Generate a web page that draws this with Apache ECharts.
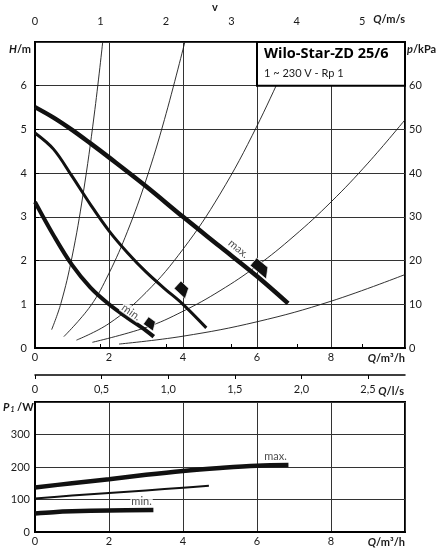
<!DOCTYPE html>
<html>
<head>
<meta charset="utf-8">
<script src="https://cdn.jsdelivr.net/npm/echarts@6/dist/echarts.min.js"></script>
<style>
  html, body { margin: 0; padding: 0; background: #fff; }
  #chart { width: 441px; height: 560px; }
</style>
</head>
<body>
<div id="chart"></div>
<script>
// pump curves H(Q), Q in m³/h, H in m
const maxCurve = [[0, 5.51], [0.5, 5.27], [1, 4.99], [1.5, 4.68], [2, 4.36], [3, 3.7], [4, 3.0], [5, 2.32], [6, 1.64], [6.84, 1.02]];
const midCurve = [[0, 4.92], [0.5, 4.55], [1, 3.93], [1.5, 3.28], [2, 2.68], [2.5, 2.18], [3, 1.74], [3.5, 1.36], [4, 1.0], [4.63, 0.46]];
const minCurve = [[0, 3.34], [0.5, 2.58], [1, 1.9], [1.5, 1.38], [2, 1.0], [2.5, 0.69], [3, 0.4], [3.21, 0.26]];

// system curves (thin)
const sysA = [[0.45, 0.42], [0.7, 1.02], [1.0, 2.08], [1.3, 3.52], [1.6, 5.33], [1.83, 7.0]];
const sysB = [[0.78, 0.26], [1.5, 0.96], [2.0, 1.71], [2.5, 2.67], [3.0, 3.84], [3.5, 5.23], [4.05, 7.0]];
const sysC = [[1.12, 0.18], [2, 0.56], [3, 1.27], [4, 2.26], [5, 3.52], [6, 5.08], [7.05, 7.0]];
const sysD = [[1.55, 0.13], [3, 0.47], [4, 0.84], [5, 1.31], [6, 1.88], [7, 2.56], [8, 3.34], [9, 4.23], [10, 5.22]];
const sysE = [[2.27, 0.09], [4, 0.27], [6, 0.6], [8, 1.07], [10, 1.68]];

// operating markers and curve labels (Q, H)
const markers = [[6.12, 1.82], [4.0, 1.33], [3.13, 0.55]];
const hLabels = [['max.', 5.5, 2.27], ['min.', 2.6, 0.82]];

// power input P1(Q), W
const p1Max = [[0, 137], [1, 150], [2, 162], [3, 176], [4, 188], [5, 197], [6, 204], [6.85, 206]];
const p1Mid = [[0, 103], [1, 112], [2, 120], [3, 128], [4, 136], [4.7, 142]];
const p1Min = [[0, 57], [0.5, 61], [1, 63.5], [2, 66.5], [3.2, 68]];
const pLabels = [['max.', 6.5, 232], ['min.', 2.88, 94]];

// secondary axis ticks
const vTicks = [0, 1, 2, 3, 4, 5];          // m/s
const lpsTicks = [0, 0.5, 1, 1.5, 2, 2.5];  // l/s
const vMax = 10 / 1.769;
const lpsMax = 10 / 3.6;

const FONT = 'Lato';
const ink = '#1a1a1a';

const chart = echarts.init(document.getElementById('chart'));

const lbl = { color: ink, fontSize: 11, fontFamily: FONT };
const gridLine = { show: true, lineStyle: { color: '#333', width: 1 } };

function thin(data) {
    return {
        type: 'line', xAxisIndex: 0, yAxisIndex: 0, data: data,
        smooth: 0.4, symbol: 'none', silent: true,
        lineStyle: { color: ink, width: 0.9 }, z: 2
    };
}
function thick(data, w, xi, yi) {
    return {
        type: 'line', xAxisIndex: xi, yAxisIndex: yi, data: data,
        smooth: 0.35, symbol: 'none', silent: true,
        lineStyle: { color: '#111', width: w }, z: 4
    };
}
function textMarks(list, xi, yi, rot, bg) {
    return list.map((l, i) => ({
        type: 'scatter', xAxisIndex: xi, yAxisIndex: yi, silent: true, z: 6,
        symbolSize: 1, itemStyle: { color: 'rgba(0,0,0,0)' },
        data: [[l[1], l[2]]],
        label: {
            show: true, position: 'inside', formatter: l[0], rotate: rot[i],
            color: ink, fontSize: 11, fontFamily: FONT,
            backgroundColor: bg[i], padding: [0, 1]
        }
    }));
}

const markerSizes = [[21, 10], [15, 10], [12, 9]];
const markerRot = [-40, -43, -36];

chart.setOption({
    animation: false,
    grid: [
        { left: 35, top: 42, width: 370, height: 306, show: true, borderColor: '#000', borderWidth: 2, backgroundColor: '#fff' },
        { left: 35, top: 402, width: 370, height: 130, show: true, borderColor: '#000', borderWidth: 2, backgroundColor: '#fff' }
    ],
    xAxis: [
        {
            gridIndex: 0, type: 'value', position: 'bottom', min: 0, max: 10, interval: 2,
            axisLine: { lineStyle: { color: '#000', width: 2 } }, axisTick: { show: false },
            axisLabel: Object.assign({ margin: 4, showMaxLabel: false }, lbl), splitLine: gridLine
        },
        {
            gridIndex: 0, type: 'value', position: 'top', offset: 10, min: 0, max: vMax,
            axisLine: { show: true, lineStyle: { color: '#000', width: 1.5 } },
            axisTick: { show: true, length: 4, customValues: vTicks, lineStyle: { color: '#000' } },
            axisLabel: Object.assign({ margin: 5, customValues: vTicks }, lbl), splitLine: { show: false }
        },
        {
            gridIndex: 1, type: 'value', position: 'bottom', min: 0, max: 10, interval: 2,
            axisLine: { lineStyle: { color: '#000', width: 2 } }, axisTick: { show: false },
            axisLabel: Object.assign({ margin: 4, showMaxLabel: false }, lbl), splitLine: gridLine
        },
        {
            gridIndex: 1, type: 'value', position: 'top', offset: 27, min: 0, max: lpsMax,
            axisLine: { show: true, lineStyle: { color: '#000', width: 1.5 } },
            axisTick: { show: true, inside: true, length: 4, customValues: lpsTicks, lineStyle: { color: '#000' } },
            axisLabel: Object.assign({
                inside: true, margin: 9, customValues: lpsTicks,
                formatter: v => v === 0 ? '0' : v.toFixed(1).replace('.', ',')
            }, lbl),
            splitLine: { show: false }
        }
    ],
    yAxis: [
        {
            gridIndex: 0, type: 'value', position: 'left', min: 0, max: 7, interval: 1,
            axisLine: { show: true, lineStyle: { color: '#000', width: 2 } }, axisTick: { show: false },
            axisLabel: Object.assign({ margin: 8, showMaxLabel: false }, lbl), splitLine: gridLine
        },
        {
            gridIndex: 0, type: 'value', position: 'right', min: 0, max: 70, interval: 10,
            axisLine: { show: true, lineStyle: { color: '#000', width: 2 } },
            axisTick: { show: true, length: 4, lineStyle: { color: '#000' } },
            axisLabel: Object.assign({ margin: 4, showMaxLabel: false }, lbl), splitLine: { show: false }
        },
        {
            gridIndex: 1, type: 'value', position: 'left', min: 0, max: 400, interval: 100,
            axisLine: { show: true, lineStyle: { color: '#000', width: 2 } }, axisTick: { show: false },
            axisLabel: Object.assign({ margin: 5, showMaxLabel: false }, lbl), splitLine: gridLine
        }
    ],
    series: [
        thin(sysA), thin(sysB), thin(sysC), thin(sysD), thin(sysE),
        thick(maxCurve, 4.5, 0, 0),
        thick(midCurve, 3, 0, 0),
        thick(minCurve, 4, 0, 0),
        {
            type: 'scatter', xAxisIndex: 0, yAxisIndex: 0, silent: true, z: 7,
            symbol: 'path://M0,0 L14,0 L20,9 L0,9 Z',
            itemStyle: { color: '#111', borderColor: '#fff', borderWidth: 0.6, opacity: 1 },
            data: markers.map((p, i) => ({ value: p, symbolSize: markerSizes[i], symbolRotate: markerRot[i] }))
        },
        ...textMarks(hLabels, 0, 0, [-40, -35], ['rgba(255,255,255,0)', '#fff']),
        thick(p1Max, 4.5, 2, 2),
        thick(p1Mid, 2, 2, 2),
        thick(p1Min, 4.5, 2, 2),
        ...textMarks(pLabels, 2, 2, [0, 0], ['rgba(255,255,255,0)', '#fff'])
    ]
});

// title box and axis names
const tl = chart.convertToPixel({ xAxisIndex: 0, yAxisIndex: 0 }, [6, 7]);
const br = chart.convertToPixel({ xAxisIndex: 0, yAxisIndex: 0 }, [10, 6]);
const it = { i: { fontStyle: 'italic', fontWeight: 'bold', fontFamily: FONT, fontSize: 11 } };
function name(x, y, text, align) {
    return {
        type: 'text', x: x, y: y, z: 100,
        style: {
            text: text, align: align || 'left', verticalAlign: 'middle',
            fontFamily: FONT, fontSize: 11, fontWeight: 'bold', fill: ink, rich: it
        }
    };
}
chart.setOption({
    graphic: [
        {
            type: 'rect', z: 100,
            shape: { x: tl[0], y: tl[1], width: br[0] - tl[0], height: br[1] - tl[1] },
            style: { fill: '#fff', stroke: '#000', lineWidth: 2 }
        },
        {
            type: 'text', x: tl[0] + 7, y: tl[1] + 12, z: 101,
            style: { text: 'Wilo-Star-ZD 25/6', verticalAlign: 'middle', fontFamily: 'Open Sans', fontSize: 14.5, fontWeight: 'bold', fill: '#000' }
        },
        {
            type: 'text', x: tl[0] + 7, y: tl[1] + 31, z: 101,
            style: { text: '1 ~ 230 V - Rp 1', verticalAlign: 'middle', fontFamily: FONT, fontSize: 11, fill: ink }
        },
        name(215, 7, 'v', 'center'),
        name(405, 19, '{i|Q}/m/s', 'right'),
        name(31, 49, '{i|H}/m', 'right'),
        name(407, 49, '{i|p}/kPa', 'left'),
        name(405, 358, '{i|Q}/m³/h', 'right'),
        name(404, 391, '{i|Q}/l/s', 'right'),
        {
            type: 'text', x: 3, y: 407, z: 100,
            style: {
                text: '{i|P}{s|1} /W', verticalAlign: 'middle',
                fontFamily: FONT, fontSize: 11, fontWeight: 'bold', fill: ink,
                rich: { i: it.i, s: { fontSize: 7, fontWeight: 'bold', fontStyle: 'italic', padding: [5, 0, 0, 1], fontFamily: FONT } }
            }
        },
        name(405, 542, '{i|Q}/m³/h', 'right')
    ]
});

window.addEventListener('resize', chart.resize);
</script>
</body>
</html>
